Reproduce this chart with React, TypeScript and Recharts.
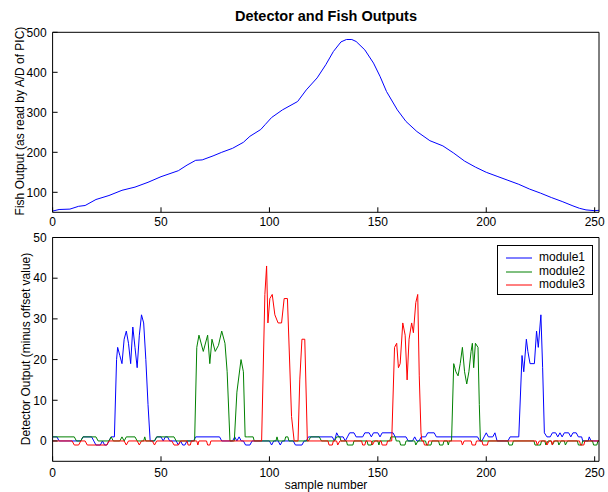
import { LineChart, Line, XAxis, YAxis, Legend } from "recharts";

const sampleTicks = [0, 50, 100, 150, 200, 250];
const fishTicks = [100, 200, 300, 400, 500];
const detectorTicks = [0, 10, 20, 30, 40, 50];

// [sample, value]
const fishOutput: [number, number][] = [
  [0, 53], [3, 57], [8, 58], [12, 65], [15, 67], [20, 82], [26, 92], [32, 105], [38, 113],
  [44, 125], [50, 139], [58, 154], [62, 168], [66, 180], [69, 181], [74, 191], [78, 200],
  [83, 210], [88, 225], [91, 240], [96, 257], [98, 269], [101, 287], [106, 306], [113, 327],
  [117, 356], [122, 386], [126, 419], [129.5, 452], [133, 476], [135.5, 482], [138, 482],
  [140, 477], [144, 456], [148, 423], [151, 390], [154, 352], [159, 306], [163, 277],
  [168, 252], [174, 229], [180, 216], [185, 198], [190, 178], [195, 163], [200, 150],
  [205, 140], [210, 130], [215, 120], [220, 108], [225, 98], [230, 87], [235, 77],
  [240, 66], [243, 60], [246, 56], [250, 54], [252, 55],
];

const module1: [number, number][] = [
  [0, 1], [2, 1], [3, 0], [13, 0], [14, 1], [18, 1], [19, 0], [20, -1], [22, -1], [23, 0],
  [24, -1], [25, -1], [26, 0], [27, 1], [28.5, 1],
  [29.5, 20], [30, 23], [31, 21], [32, 19], [33, 25], [34, 27], [35, 24], [36, 19], [37, 28],
  [38, 23], [39, 18], [40, 26], [41, 31], [42, 29], [43, 20], [44, 9], [45, 0],
  [47, 0], [48, 1], [50, 1], [51, 0], [52, 1], [53, 1], [54, 0], [57, 0], [58, -1], [59, 0],
  [60, -1], [61, -1], [62, 0], [65, 0], [66, 1], [77, 1], [78, 0], [83, 0], [84, 1], [85, 0],
  [86, 1], [87, 0], [88, 0], [89, -1], [91, -1], [92, 0], [100, 0], [101, -1], [102, 0],
  [104, 0], [105, -1], [106, 0], [111, 0], [112, -1], [115, -1], [116, 0], [117, 0], [118, 1],
  [129, 1], [130, 0], [131, 2], [132, 1], [134, 1], [135, 0], [136, 1], [137, 2], [139, 2],
  [140, 1], [143, 1], [144, 2], [146, 2], [147, 1], [148, 2], [150, 2], [151, 1], [152, 2],
  [157, 2], [158, 1], [163, 1], [164, 0], [166, 0], [167, 1], [168, 0], [169, 0], [170, 1],
  [172, 1], [173, 2], [176, 2], [177, 1], [196, 1], [197, 0], [198, 0], [199, 1], [200, 2],
  [201, 1], [203, 1], [204, 2], [205, 0], [210, 0], [211, 1], [215, 1],
  [216.5, 21], [217.3, 17], [218.5, 25], [219.2, 22], [220.2, 19], [222.2, 19], [223.2, 27],
  [224, 23], [225.2, 31], [226, 18], [226.8, 2], [228, 1], [229.5, 1], [230.5, 2], [232, 2],
  [233, 1], [234, 2], [235, 1], [236, 2], [238, 2], [239, 1], [240, 2], [241.5, 2],
  [242.5, 1], [244, 1], [244.5, 0], [247, 0], [247.5, 1], [248.3, 0], [252, 0],
];

const module2: [number, number][] = [
  [0, 1], [10, 1], [11, 0], [13, 0], [14, 1], [20, 1], [21, 0], [26, 0], [27, 1], [28, 0],
  [31, 0], [32, 1], [33, 0], [34, 1], [38, 1], [39, 0], [42, 0], [42.5, 1], [43, 0], [47, 0],
  [48, 1], [56, 1], [57, 0], [65.5, 0],
  [66.5, 23], [67.5, 26], [69.5, 22], [71.5, 26], [72.5, 19], [73.5, 25], [75, 22],
  [76.5, 23.5], [78, 27], [79.5, 24], [80.5, 17], [81.8, 0], [83.8, 0], [85, 12], [86.9, 20],
  [88, 17], [88.8, 1], [90, 1], [92.5, 1], [93, 0], [103, 0], [103.5, 1], [104, 0], [107, 0],
  [107.5, 1], [108.5, 1], [109, 0], [118, 0], [119, 1], [123, 1], [124, 0], [130, 0], [131, 1],
  [132.5, 1], [133, 0], [135.5, 0], [136, -1], [138.5, -1], [139, 0], [145, 0], [145.5, -1],
  [147, -1], [147.5, 0], [150, 0], [150.5, -1], [151, 0], [155.5, 0], [156, 1], [158, 1],
  [158.5, 0], [160, 0], [160.5, -1], [162.5, -1], [163, 0], [167, 0], [167.5, -1], [168.5, 0],
  [172, 0], [172.5, -1], [174.5, -1], [175, 0], [178, 0], [178.5, -1], [180, -1], [180.5, 0],
  [182, 0], [182.5, -1], [183, 0], [184, 0],
  [185, 19], [186, 17], [187, 16], [188, 19], [189, 23], [190, 17], [191, 14], [192, 17],
  [193, 22], [193.6, 24], [194.2, 18], [195, 24], [196.2, 23], [196.8, 9], [197.3, 0],
  [210, 0], [210.5, -1], [212, -1], [212.5, 0], [222, 0], [222.5, -1], [225, -1], [225.5, 0],
  [227, 0], [227.5, -1], [228.5, 0], [230, 0], [230.5, -1], [231.5, 0], [233, 0], [233.5, -1],
  [234.5, 0], [236, 0], [236.5, -1], [237.5, 0], [242, 0], [242.5, -1], [244, -1], [244.5, 0],
  [249, 0], [249.5, -1], [251, -1], [251.5, 0], [252, 0],
];

const module3: [number, number][] = [
  [0, 0], [9, 0], [10, -1], [12, -1], [13, 0], [15, 0], [16, -1], [25, -1], [26, 0], [33, 0],
  [34, -1], [35, 0], [39, 0], [40, -1], [41, 0], [46, 0], [47, -1], [48, 0], [55, 0], [56, -1],
  [58, -1], [59, 0], [62, 0], [62.5, -1], [63.5, -1], [64, 0], [66.5, 0], [67, -1], [67.5, 0],
  [71, 0], [71.5, -1], [72.5, -1], [73, 0], [96.4, 0],
  [97.9, 36], [98.7, 43], [99.3, 29], [100.2, 35], [101.3, 36], [102.5, 31], [104, 29],
  [105.6, 29], [106.8, 35], [108.3, 35], [110.2, 6], [111.4, 0], [113.2, 0], [114, 15],
  [115, 25], [116.3, 25], [117.5, 0],
  [127, 0], [127.5, -1], [129, -1], [129.5, 0], [131, 0], [131.5, -1], [132.5, 0], [142.5, 0],
  [143, -1], [144, -1], [144.5, 0], [147, 0], [147.5, -1], [148.5, 0], [151.5, 0], [152, -1],
  [154, -1], [154.5, 0], [156.4, 0],
  [157.7, 23], [158.7, 24], [159.5, 18], [160.3, 19], [161.5, 29], [162.6, 26], [163.5, 15],
  [164.4, 25], [165.6, 29], [166.4, 26.6], [167.5, 34], [168.4, 36], [169.1, 16], [169.9, 2],
  [170.3, 0], [171, 0], [171.5, -1], [173, -1], [173.5, 0], [188.5, 0], [189, -1], [189.8, 0],
  [193, 0], [193.5, -1], [195, -1], [195.5, 0], [198, 0], [198.5, -1], [200.5, -1], [201, 0],
  [223, 0], [223.5, -1], [224.5, 0], [227.5, 0], [228, -1], [229, 0], [230, 0], [230.5, -1],
  [231, 0], [243, 0], [243.5, -1], [245, -1], [245.5, 0], [252, 0],
];

const modules = [
  { name: "module1", color: "#0000ff", points: module1 },
  { name: "module2", color: "#008000", points: module2 },
  { name: "module3", color: "#ff0000", points: module3 },
];

const FONT = '"Liberation Sans", Arial, Helvetica, sans-serif';
const tickStyle = { fontSize: 12, fill: "#000", fontFamily: FONT };

const toRows = (pts: [number, number][]) => pts.map(([x, y]) => ({ x, y }));

const renderLegend = (props: any) => (
  <div
    style={{
      border: "1px solid #000",
      background: "#fff",
      boxSizing: "border-box",
      width: 96,
      height: 50,
      padding: "5px 0 0 8px",
      fontFamily: FONT,
      fontSize: 12,
    }}
  >
    {(props.payload || []).map((p: any) => (
      <div key={p.value} style={{ display: "flex", alignItems: "center", height: 13.7 }}>
        <svg width={26} height={4} style={{ display: "block" }}>
          <line x1={0} y1={2} x2={26} y2={2} stroke={p.color} strokeWidth={1} />
        </svg>
        <span style={{ marginLeft: 7, lineHeight: "13.7px", color: "#000" }}>{p.value}</span>
      </div>
    ))}
  </div>
);

function RotatedLabel({ text, cx, cy }: { text: string; cx: number; cy: number }) {
  return (
    <div
      style={{
        position: "absolute",
        left: cx - 150,
        top: cy - 8,
        width: 300,
        height: 16,
        lineHeight: "16px",
        textAlign: "center",
        transform: "rotate(-90deg)",
        fontSize: 12,
        fontFamily: FONT,
        color: "#000",
        whiteSpace: "nowrap",
      }}
    >
      {text}
    </div>
  );
}

export default function App() {
  return (
    <div
      style={{
        position: "absolute",
        left: 0,
        top: 0,
        width: 608,
        height: 492,
        background: "#fff",
        fontFamily: FONT,
        overflow: "hidden",
      }}
    >
      <div
        style={{
          position: "absolute",
          left: 0,
          width: 652,
          top: 7,
          textAlign: "center",
          fontWeight: "bold",
          fontSize: 14.5,
          lineHeight: "18px",
        }}
      >
        Detector and Fish Outputs
      </div>

      <div style={{ position: "absolute", left: 0, top: 0 }}>
        <LineChart width={608} height={230} margin={{ top: 31.3, right: 8, bottom: 0, left: 0 }}>
          <XAxis
            xAxisId="b"
            dataKey="x"
            type="number"
            domain={[0, 252]}
            ticks={sampleTicks}
            interval={0}
            allowDataOverflow
            tickSize={-5}
            tickMargin={10}
            height={17.7}
            stroke="#000"
            tick={tickStyle}
          />
          <XAxis
            xAxisId="t"
            orientation="top"
            dataKey="x"
            type="number"
            domain={[0, 252]}
            ticks={sampleTicks}
            interval={0}
            allowDataOverflow
            tickSize={-5}
            height={1}
            stroke="#000"
            tick={false}
          />
          <YAxis
            yAxisId="l"
            type="number"
            domain={[50, 500]}
            ticks={fishTicks}
            interval={0}
            allowDataOverflow
            tickSize={-5}
            tickMargin={11}
            width={52.6}
            stroke="#000"
            tick={tickStyle}
          />
          <YAxis
            yAxisId="r"
            orientation="right"
            type="number"
            domain={[50, 500]}
            ticks={fishTicks}
            interval={0}
            allowDataOverflow
            tickSize={-5}
            width={1}
            stroke="#000"
            tick={false}
          />
          <Line
            xAxisId="b"
            yAxisId="l"
            data={toRows(fishOutput)}
            dataKey="y"
            type="linear"
            stroke="#0000ff"
            strokeWidth={1}
            dot={false}
            isAnimationActive={false}
          />
        </LineChart>
      </div>

      <div style={{ position: "absolute", left: 0, top: 220 }}>
        <LineChart width={608} height={272} margin={{ top: 16.5, right: 8, bottom: 0, left: 0 }}>
          <XAxis
            xAxisId="b"
            dataKey="x"
            type="number"
            domain={[0, 252]}
            ticks={sampleTicks}
            interval={0}
            allowDataOverflow
            tickSize={-5}
            tickMargin={12}
            height={30.7}
            stroke="#000"
            tick={tickStyle}
          />
          <XAxis
            xAxisId="t"
            orientation="top"
            dataKey="x"
            type="number"
            domain={[0, 252]}
            ticks={sampleTicks}
            interval={0}
            allowDataOverflow
            tickSize={-5}
            height={1}
            stroke="#000"
            tick={false}
          />
          <YAxis
            yAxisId="l"
            type="number"
            domain={[-5, 50]}
            ticks={detectorTicks}
            interval={0}
            allowDataOverflow
            tickSize={-5}
            tickMargin={11}
            width={52.6}
            stroke="#000"
            tick={tickStyle}
          />
          <YAxis
            yAxisId="r"
            orientation="right"
            type="number"
            domain={[-5, 50]}
            ticks={detectorTicks}
            interval={0}
            allowDataOverflow
            tickSize={-5}
            width={1}
            stroke="#000"
            tick={false}
          />
          <Legend
            layout="horizontal"
            verticalAlign="middle"
            align="center"
            content={renderLegend}
            wrapperStyle={{ position: "absolute", left: 497, top: 25, width: 96, height: 50 }}
          />
          {modules.map((m) => (
            <Line
              key={m.name}
              name={m.name}
              xAxisId="b"
              yAxisId="l"
              data={toRows(m.points)}
              dataKey="y"
              type="linear"
              stroke={m.color}
              strokeWidth={1}
              dot={false}
              isAnimationActive={false}
            />
          ))}
        </LineChart>
      </div>

      <RotatedLabel text="Fish Output (as read by A/D of PIC)" cx={19.5} cy={121} />
      <RotatedLabel text="Detector Output (minus offset value)" cx={26} cy={349} />

      <div
        style={{
          position: "absolute",
          left: 0,
          width: 652,
          top: 478,
          textAlign: "center",
          fontSize: 12,
          lineHeight: "14px",
        }}
      >
        sample number
      </div>
    </div>
  );
}
